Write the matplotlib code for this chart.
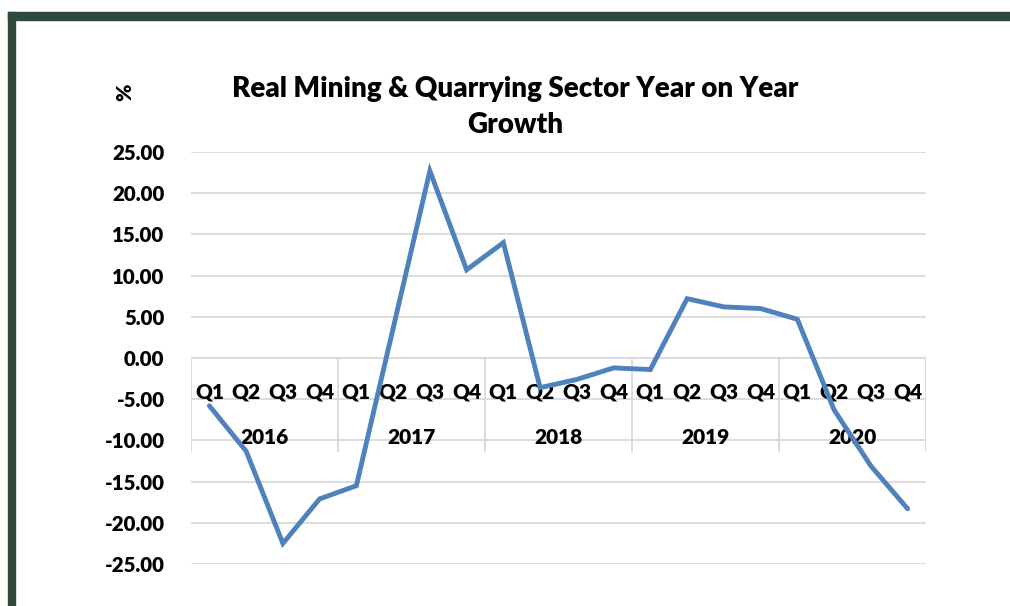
import matplotlib.pyplot as plt
from matplotlib.patches import Rectangle

# Data
years = ["2016", "2017", "2018", "2019", "2020"]
quarters = ["Q1", "Q2", "Q3", "Q4"]
growth = [-5.8, -11.3, -22.5, -17.1,
          -15.5, 3.6, 22.7, 10.7,
          14.0, -3.6, -2.6, -1.2,
          -1.4, 7.2, 6.2, 6.0,
          4.7, -6.3, -13.1, -18.3]
yticks = [25, 20, 15, 10, 5, 0, -5, -10, -15, -20, -25]

plt.rcParams['font.family'] = ['Lato', 'DejaVu Sans']
wt = "heavy"

W, H = 1010, 606
fig = plt.figure(figsize=(W / 100, H / 100), dpi=100)

# dark green frame (top and left only)
frame = "#2F4A3B"
fig.patches.append(Rectangle((8 / W, 1 - 20 / H), 1 - 8 / W, 8 / H,
                             transform=fig.transFigure, color=frame, zorder=0))
fig.patches.append(Rectangle((8 / W, 0), 7 / W, 1 - 12 / H,
                             transform=fig.transFigure, color=frame, zorder=0))

ax = fig.add_axes([191 / W, (H - 564) / H, 735 / W, 412 / H])
x = list(range(len(growth)))
ax.plot(x, growth, color="#4F81BD", linewidth=3.5, solid_capstyle="round",
        solid_joinstyle="miter", zorder=3)

ax.set_xlim(-0.5, len(growth) - 0.5)
ax.set_ylim(-25, 25)
ax.set_yticks(yticks)
ax.set_yticklabels([f"{v:.2f}" for v in yticks], fontsize=14.8, fontweight=wt)
ax.set_xticks([])
ax.tick_params(axis="y", length=0, pad=19)
ax.grid(axis="y", color="#D9D9D9", linewidth=1.3)
ax.set_axisbelow(True)
for s in ax.spines.values():
    s.set_visible(False)

# category axis at zero: separators, quarter and year labels
ax.axhline(0, color="#D9D9D9", linewidth=1.3, zorder=1)
seps = [i * 4 - 0.5 for i in range(len(years) + 1)]
ax.vlines(seps, -11.4, 0, color="#D9D9D9", linewidth=1.3, zorder=1)
for i in x:
    ax.text(i, -4.1, quarters[i % 4], ha="center", va="center",
            fontsize=15, fontweight=wt, zorder=2)
for j, yr in enumerate(years):
    ax.text(j * 4 + 1.5, -9.7, yr, ha="center", va="center",
            fontsize=15, fontweight=wt, zorder=2)

fig.text(515 / W, 1 - 107 / H, "Real Mining & Quarrying Sector Year on Year\nGrowth",
         ha="center", va="center", fontsize=20, fontweight=wt,
         linespacing=1.5)
fig.text(125 / W, 1 - 92 / H, "%", ha="center", va="center", rotation=90,
         fontsize=15, fontweight=wt)

fig.savefig("out.png", dpi=100)
